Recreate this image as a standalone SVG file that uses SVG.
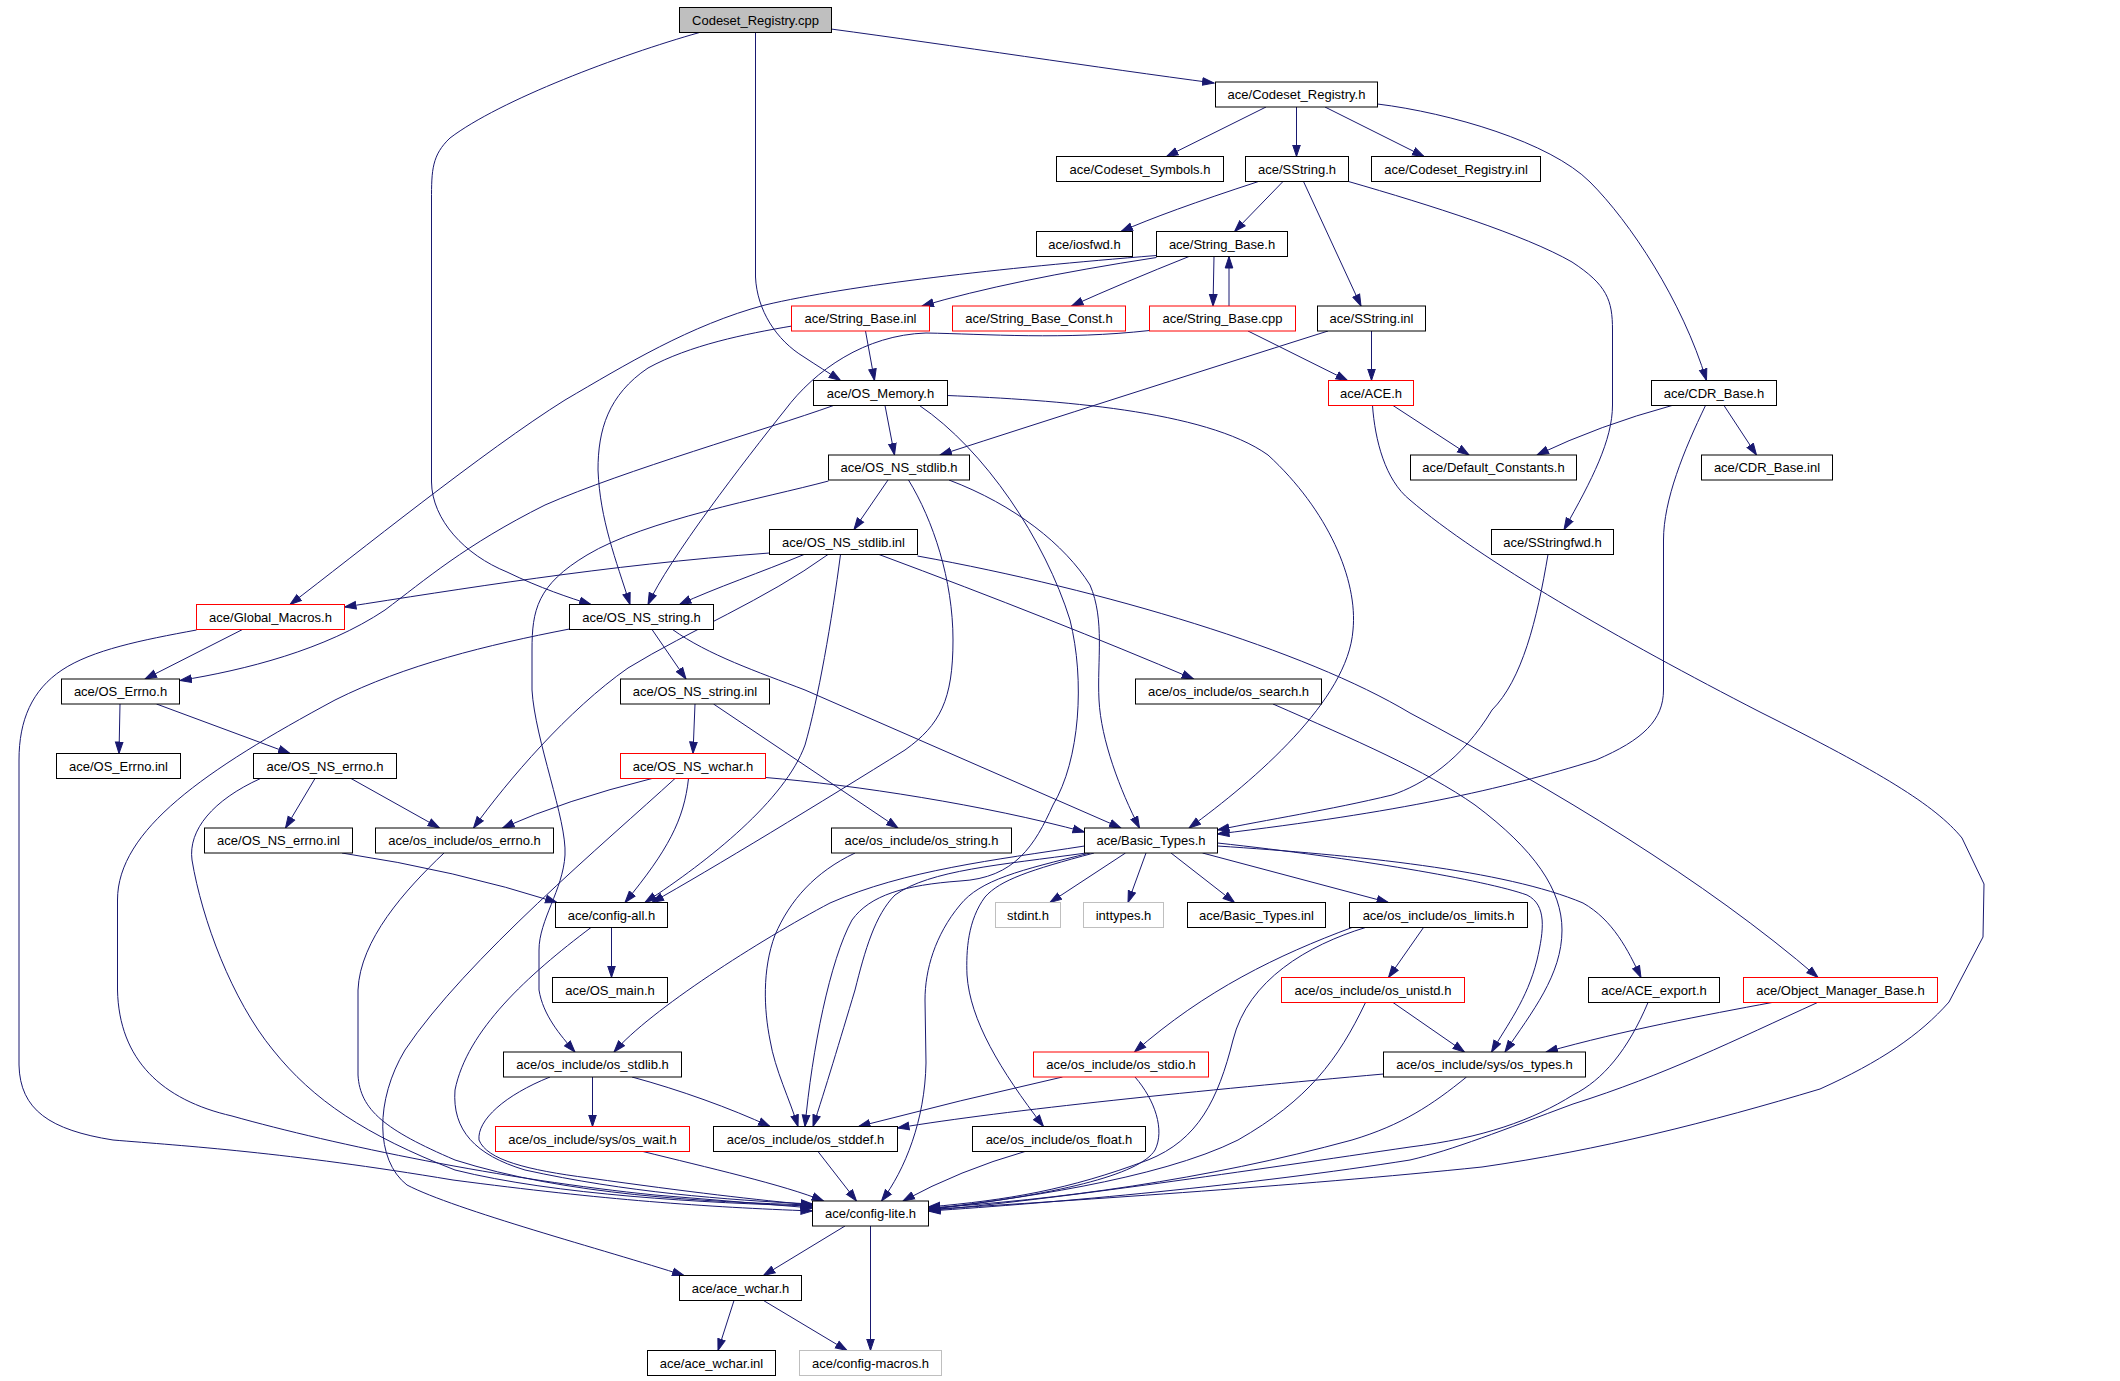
<svg xmlns="http://www.w3.org/2000/svg" width="2120" height="1381" viewBox="0 0 2120 1381">
<style>
.n rect{fill:#fff;stroke:#000;stroke-width:1}
.n.red rect{stroke:#f00}
.n.gray rect{stroke:#bfbfbf}
.n.root rect{fill:#bfbfbf}
text{font-family:"Liberation Sans",Arial,sans-serif;font-size:13px;text-anchor:middle;fill:#000}
#edges path{fill:none;stroke:#191970;stroke-width:1;marker-end:url(#ah)}
</style>
<defs>
<marker id="ah" markerUnits="userSpaceOnUse" markerWidth="13" markerHeight="10" viewBox="0 0 13 10" refX="12" refY="5" orient="auto">
<path d="M0.5,1.2 L12,5 L0.5,8.8 Z" fill="#191970" stroke="#191970" stroke-width="1"/>
</marker>
</defs>
<rect x="0" y="0" width="2120" height="1381" fill="#fff"/>
<g id="edges">
<path d="M831,29 C950,45 1100,68 1214,83"/>
<path d="M699.5,32.5 C620,55 500,100 450,138 C432,155 431.5,170 431.5,200 L431.5,482 C432,520 465,555 507,572 C540,588 570,598 591,604.5"/>
<path d="M755.5,32.5 L755.5,277 C757,310 776,340 804,357 C816,365 829,373 840.5,380.5"/>
<path d="M1266,107 L1166.5,156.5"/>
<path d="M1296.5,107 L1296.5,156.5"/>
<path d="M1325,107 L1424,156.5"/>
<path d="M1377.5,104 C1450,113 1550,142 1590,182 C1630,222 1682,300 1706.5,380.5"/>
<path d="M1258.5,181.5 Q1165,212 1121,231.5"/>
<path d="M1283,181.5 L1234.5,231.5"/>
<path d="M1303.5,181.5 L1361,306"/>
<path d="M1348.5,181.5 C1430,205 1525,235 1572,262 C1607,285 1612.5,300 1612.5,330 L1612.5,405 C1612.5,440 1592,480 1564,529.5"/>
<path d="M1156.5,255.5 C1000,268 850,285 765,305 C690,325 625,365 565,400 C485,450 355,555 290,604.5"/>
<path d="M1156.5,257.5 Q1010,280 922,306"/>
<path d="M1189,256.5 Q1125,282 1071.5,306"/>
<path d="M1214,256.5 L1213,306"/>
<path d="M1229,306 L1229,256.5"/>
<path d="M1248,331 L1347.5,380.5"/>
<path d="M1149.5,330.5 C1065,340 985,334 926,333 C865,335 815,370 785,410 C745,460 668,560 648,604.5"/>
<path d="M865.5,331 L874.5,380.5"/>
<path d="M792,326 C745,334 690,345 648,368 C608,395 598,430 598,470 C600,520 616,560 630,604.5"/>
<path d="M1371.5,331 L1371.5,380.5"/>
<path d="M1328,331 Q1110,400 940,455"/>
<path d="M885,405.5 L894.5,455"/>
<path d="M833.5,405.5 C765,430 625,470 545,505 C465,545 425,580 385,610 C325,650 245,670 180,680.5"/>
<path d="M947.5,395.5 C1055,400 1205,410 1268,455 C1328,510 1358,580 1353,630 C1348,700 1255,780 1189,828"/>
<path d="M919.5,405.5 C985,450 1045,540 1070,620 C1085,680 1080,760 1053,805 C1035,845 1015,878 960,881 C905,885 870,895 852,920 C830,960 812,1050 805,1126.5"/>
<path d="M1393,405.5 L1469,455"/>
<path d="M1372.5,405.5 C1375,440 1385,480 1410,500 C1480,560 1620,640 1760,712 C1880,772 1935,805 1962,838 L1984,884 L1983,937 L1949,1002 C1920,1035 1880,1062 1820,1089 C1710,1122 1600,1150 1482,1167 C1300,1186 1050,1202 928.5,1209.5"/>
<path d="M1672,405.5 Q1600,425 1537,455"/>
<path d="M1724,405.5 L1756.5,455"/>
<path d="M1705.5,405.5 C1684,450 1663.5,500 1663.5,540 L1663.5,690 C1663.5,720 1643,740 1596,760 C1500,790 1400,812 1217.5,834"/>
<path d="M888,480 L854,529.5"/>
<path d="M908.5,480 C933,520 953,580 953,640 C953,700 940,725 905,750 C825,800 710,870 652,902.5"/>
<path d="M949,480 C1015,505 1065,545 1090,585 C1105,620 1097,660 1099,700 C1101,740 1120,790 1139.5,828"/>
<path d="M828.5,481 C765,498 645,520 587,555 C537,585 532,610 532,650 L532,690 C535,740 567,820 565,855 C563,890 539,920 539,950 L539,990 C543,1015 560,1035 575,1052"/>
<path d="M769.5,553 C605,565 455,590 344.5,607"/>
<path d="M804,554.5 C762,572 715,588 679.5,604.5"/>
<path d="M828,554.5 C765,600 690,630 628,668 C568,710 508,780 473.5,828"/>
<path d="M840.5,554.5 C832,620 818,700 805,745 C785,800 710,860 645,902.5"/>
<path d="M879,554.5 Q1055,620 1193.5,679"/>
<path d="M917.5,556 C1105,590 1305,650 1410,713 C1555,790 1705,880 1818,977.5"/>
<path d="M1548,554.5 C1537,620 1522,680 1492,710 C1462,760 1422,785 1392,795 C1330,810 1265,820 1217.5,830"/>
<path d="M242.5,629.5 L145,679"/>
<path d="M196.5,630 C142,640 92,650 62,670 C32,690 19,720 19,760 L19,1065 C20,1110 50,1130 113,1140 C185,1146 285,1152 453,1180 C605,1200 705,1207 812.5,1211"/>
<path d="M652,629.5 L686,679"/>
<path d="M672.5,629.5 C708,655 758,672 805,690 L1121,828"/>
<path d="M569.5,629 C487,645 405,665 335,700 C205,770 117.5,830 117.5,900 L117.5,990 C119,1060 162,1100 232,1116 C335,1145 505,1180 655,1195 L812.5,1208"/>
<path d="M120,704 L119,753.5"/>
<path d="M156.5,704 L290,753.5"/>
<path d="M695,704 L693,753.5"/>
<path d="M713.5,704 L898,828"/>
<path d="M1273,704 C1355,740 1425,770 1475,805 C1535,850 1562,890 1562,930 C1562,975 1532,1012 1505,1052"/>
<path d="M315,778.5 L285.5,828"/>
<path d="M351,778.5 L439.5,828"/>
<path d="M260.5,778.5 C213,800 188,830 192,860 C202,920 232,1000 273,1050 C313,1100 365,1135 455,1170 C555,1195 705,1203 812.5,1206"/>
<path d="M652,778.5 Q565,800 502.5,828"/>
<path d="M688.5,778.5 C684,820 668,850 625,902.5"/>
<path d="M765.5,777.5 C855,785 985,805 1084.5,832"/>
<path d="M675,778.5 C608,840 465,960 405,1050 C375,1100 375,1160 407,1185 C455,1210 605,1250 684,1275.5"/>
<path d="M342,853 Q455,870 557,902.5"/>
<path d="M444,853 C405,890 360,940 358,990 L358,1075 C360,1110 385,1130 455,1160 C565,1195 705,1202 812.5,1205"/>
<path d="M855,853 C815,872 790,900 775,935 C762,970 764,1010 770,1040 C775,1070 790,1100 798,1126.5"/>
<path d="M1084.5,846 C995,860 905,870 830,903 C760,940 650,1010 614,1052"/>
<path d="M1086,853 C1000,865 930,870 895,895 C875,915 865,950 855,990 C840,1040 825,1090 813,1126.5"/>
<path d="M1090,853 C1020,870 980,880 960,905 C935,935 925,970 925,1000 L926,1063 C925,1120 905,1170 881.5,1201"/>
<path d="M1094,853 C1030,870 1000,880 985,897 C968,920 966,950 967,975 C970,1020 1000,1070 1043.5,1126.5"/>
<path d="M1125.5,853 L1050,902.5"/>
<path d="M1146,853 L1128,902.5"/>
<path d="M1171,853 L1234.5,902.5"/>
<path d="M1202.5,853 L1388.5,902.5"/>
<path d="M1217.5,846 C1355,855 1505,870 1583,903 C1613,920 1628,950 1641,977.5"/>
<path d="M1217.5,843 C1355,858 1485,880 1527,895 C1547,905 1544,930 1537,960 C1527,1000 1507,1025 1491.5,1052"/>
<path d="M611.5,927.5 L611.5,977.5"/>
<path d="M591,927.5 C528,975 467,1030 455,1090 C452,1130 475,1155 525,1170 C625,1192 725,1200 812.5,1204"/>
<path d="M1423.5,927.5 L1388.5,977.5"/>
<path d="M1352,927.5 C1278,955 1205,990 1134.5,1052"/>
<path d="M1365.5,927.5 C1308,945 1248,980 1233,1040 C1218,1100 1198,1140 1148,1160 C1068,1190 1008,1200 928.5,1207"/>
<path d="M1393,1002.5 L1464.5,1052"/>
<path d="M1365.5,1002.5 C1338,1060 1308,1100 1238,1140 C1158,1180 1008,1200 928.5,1209"/>
<path d="M1648,1002.5 C1628,1050 1603,1080 1573,1095 C1533,1120 1483,1138 1410,1147 C1253,1170 1053,1200 928.5,1210.5"/>
<path d="M1772,1002.5 C1705,1015 1625,1030 1546,1052"/>
<path d="M1817.5,1002.5 C1735,1040 1665,1075 1573,1104 C1503,1130 1453,1150 1410,1160 C1253,1185 1053,1203 928.5,1211"/>
<path d="M592.5,1077 L592.5,1126.5"/>
<path d="M632,1077 C680,1090 730,1108 770,1126.5"/>
<path d="M550,1077 C505,1095 477,1120 479,1140 C487,1160 527,1170 589,1178 C689,1192 757,1200 812.5,1205"/>
<path d="M1062.5,1077 Q960,1100 858.5,1126.5"/>
<path d="M1135,1077 C1155,1100 1165,1130 1155,1150 C1140,1175 1055,1195 928.5,1209.5"/>
<path d="M1383.5,1074 C1205,1090 1005,1110 897.5,1128"/>
<path d="M1466.5,1077 C1432,1105 1402,1125 1352,1140 C1205,1180 1055,1200 928.5,1208"/>
<path d="M818,1151.5 L856.5,1201"/>
<path d="M1025,1151.5 Q960,1170 903,1201"/>
<path d="M643,1151.5 C705,1167 785,1185 823.5,1201"/>
<path d="M845,1226 L763.5,1275.5"/>
<path d="M870.5,1226 L870.5,1350.5"/>
<path d="M734,1300.5 L718,1350.5"/>
<path d="M763.5,1300.5 L847,1350.5"/>
</g>
<g id="n0" class="n root"><rect x="679.5" y="7.5" width="152" height="25"/><text x="755.5" y="24.5">Codeset_Registry.cpp</text></g>
<g id="n1" class="n"><rect x="1215.5" y="82" width="162" height="25"/><text x="1296.5" y="99">ace/Codeset_Registry.h</text></g>
<g id="n2" class="n"><rect x="1056.5" y="156.5" width="167" height="25"/><text x="1140" y="173.5">ace/Codeset_Symbols.h</text></g>
<g id="n3" class="n"><rect x="1245.5" y="156.5" width="103" height="25"/><text x="1297" y="173.5">ace/SString.h</text></g>
<g id="n4" class="n"><rect x="1371.5" y="156.5" width="169" height="25"/><text x="1456" y="173.5">ace/Codeset_Registry.inl</text></g>
<g id="n5" class="n"><rect x="1036.5" y="231.5" width="96" height="25"/><text x="1084.5" y="248.5">ace/iosfwd.h</text></g>
<g id="n6" class="n"><rect x="1156.5" y="231.5" width="131" height="25"/><text x="1222" y="248.5">ace/String_Base.h</text></g>
<g id="n7" class="n red"><rect x="791.5" y="306" width="138" height="25"/><text x="860.5" y="323">ace/String_Base.inl</text></g>
<g id="n8" class="n red"><rect x="952.5" y="306" width="173" height="25"/><text x="1039" y="323">ace/String_Base_Const.h</text></g>
<g id="n9" class="n red"><rect x="1149.5" y="306" width="146" height="25"/><text x="1222.5" y="323">ace/String_Base.cpp</text></g>
<g id="n10" class="n"><rect x="1317.5" y="306" width="108" height="25"/><text x="1371.5" y="323">ace/SString.inl</text></g>
<g id="n11" class="n"><rect x="813.5" y="380.5" width="134" height="25"/><text x="880.5" y="397.5">ace/OS_Memory.h</text></g>
<g id="n12" class="n red"><rect x="1328.5" y="380.5" width="85" height="25"/><text x="1371" y="397.5">ace/ACE.h</text></g>
<g id="n13" class="n"><rect x="1651.5" y="380.5" width="125" height="25"/><text x="1714" y="397.5">ace/CDR_Base.h</text></g>
<g id="n14" class="n"><rect x="828.5" y="455" width="141" height="25"/><text x="899" y="472">ace/OS_NS_stdlib.h</text></g>
<g id="n15" class="n"><rect x="1410.5" y="455" width="166" height="25"/><text x="1493.5" y="472">ace/Default_Constants.h</text></g>
<g id="n16" class="n"><rect x="1701.5" y="455" width="131" height="25"/><text x="1767" y="472">ace/CDR_Base.inl</text></g>
<g id="n17" class="n"><rect x="769.5" y="529.5" width="148" height="25"/><text x="843.5" y="546.5">ace/OS_NS_stdlib.inl</text></g>
<g id="n18" class="n"><rect x="1491.5" y="529.5" width="122" height="25"/><text x="1552.5" y="546.5">ace/SStringfwd.h</text></g>
<g id="n19" class="n red"><rect x="196.5" y="604.5" width="148" height="25"/><text x="270.5" y="621.5">ace/Global_Macros.h</text></g>
<g id="n20" class="n"><rect x="569.5" y="604.5" width="144" height="25"/><text x="641.5" y="621.5">ace/OS_NS_string.h</text></g>
<g id="n21" class="n"><rect x="61.5" y="679" width="118" height="25"/><text x="120.5" y="696">ace/OS_Errno.h</text></g>
<g id="n22" class="n"><rect x="620.5" y="679" width="149" height="25"/><text x="695" y="696">ace/OS_NS_string.inl</text></g>
<g id="n23" class="n"><rect x="1135.5" y="679" width="186" height="25"/><text x="1228.5" y="696">ace/os_include/os_search.h</text></g>
<g id="n24" class="n"><rect x="56.5" y="753.5" width="124" height="25"/><text x="118.5" y="770.5">ace/OS_Errno.inl</text></g>
<g id="n25" class="n"><rect x="253.5" y="753.5" width="143" height="25"/><text x="325" y="770.5">ace/OS_NS_errno.h</text></g>
<g id="n26" class="n red"><rect x="620.5" y="753.5" width="145" height="25"/><text x="693" y="770.5">ace/OS_NS_wchar.h</text></g>
<g id="n27" class="n"><rect x="204.5" y="828" width="148" height="25"/><text x="278.5" y="845">ace/OS_NS_errno.inl</text></g>
<g id="n28" class="n"><rect x="375.5" y="828" width="178" height="25"/><text x="464.5" y="845">ace/os_include/os_errno.h</text></g>
<g id="n29" class="n"><rect x="831.5" y="828" width="180" height="25"/><text x="921.5" y="845">ace/os_include/os_string.h</text></g>
<g id="n30" class="n"><rect x="1084.5" y="828" width="133" height="25"/><text x="1151" y="845">ace/Basic_Types.h</text></g>
<g id="n31" class="n"><rect x="555.5" y="902.5" width="112" height="25"/><text x="611.5" y="919.5">ace/config-all.h</text></g>
<g id="n32" class="n gray"><rect x="995.5" y="902.5" width="65" height="25"/><text x="1028" y="919.5">stdint.h</text></g>
<g id="n33" class="n gray"><rect x="1083.5" y="902.5" width="80" height="25"/><text x="1123.5" y="919.5">inttypes.h</text></g>
<g id="n34" class="n"><rect x="1187.5" y="902.5" width="138" height="25"/><text x="1256.5" y="919.5">ace/Basic_Types.inl</text></g>
<g id="n35" class="n"><rect x="1349.5" y="902.5" width="178" height="25"/><text x="1438.5" y="919.5">ace/os_include/os_limits.h</text></g>
<g id="n36" class="n"><rect x="552.5" y="977.5" width="115" height="25"/><text x="610" y="994.5">ace/OS_main.h</text></g>
<g id="n37" class="n red"><rect x="1281.5" y="977.5" width="183" height="25"/><text x="1373" y="994.5">ace/os_include/os_unistd.h</text></g>
<g id="n38" class="n"><rect x="1588.5" y="977.5" width="131" height="25"/><text x="1654" y="994.5">ace/ACE_export.h</text></g>
<g id="n39" class="n red"><rect x="1743.5" y="977.5" width="194" height="25"/><text x="1840.5" y="994.5">ace/Object_Manager_Base.h</text></g>
<g id="n40" class="n"><rect x="503.5" y="1052" width="178" height="25"/><text x="592.5" y="1069">ace/os_include/os_stdlib.h</text></g>
<g id="n41" class="n red"><rect x="1033.5" y="1052" width="175" height="25"/><text x="1121" y="1069">ace/os_include/os_stdio.h</text></g>
<g id="n42" class="n"><rect x="1383.5" y="1052" width="202" height="25"/><text x="1484.5" y="1069">ace/os_include/sys/os_types.h</text></g>
<g id="n43" class="n red"><rect x="495.5" y="1126.5" width="194" height="25"/><text x="592.5" y="1143.5">ace/os_include/sys/os_wait.h</text></g>
<g id="n44" class="n"><rect x="713.5" y="1126.5" width="184" height="25"/><text x="805.5" y="1143.5">ace/os_include/os_stddef.h</text></g>
<g id="n45" class="n"><rect x="972.5" y="1126.5" width="173" height="25"/><text x="1059" y="1143.5">ace/os_include/os_float.h</text></g>
<g id="n46" class="n"><rect x="812.5" y="1201" width="116" height="25"/><text x="870.5" y="1218">ace/config-lite.h</text></g>
<g id="n47" class="n"><rect x="679.5" y="1275.5" width="122" height="25"/><text x="740.5" y="1292.5">ace/ace_wchar.h</text></g>
<g id="n48" class="n"><rect x="647.5" y="1350.5" width="128" height="25"/><text x="711.5" y="1367.5">ace/ace_wchar.inl</text></g>
<g id="n49" class="n gray"><rect x="799.5" y="1350.5" width="142" height="25"/><text x="870.5" y="1367.5">ace/config-macros.h</text></g>
</svg>
